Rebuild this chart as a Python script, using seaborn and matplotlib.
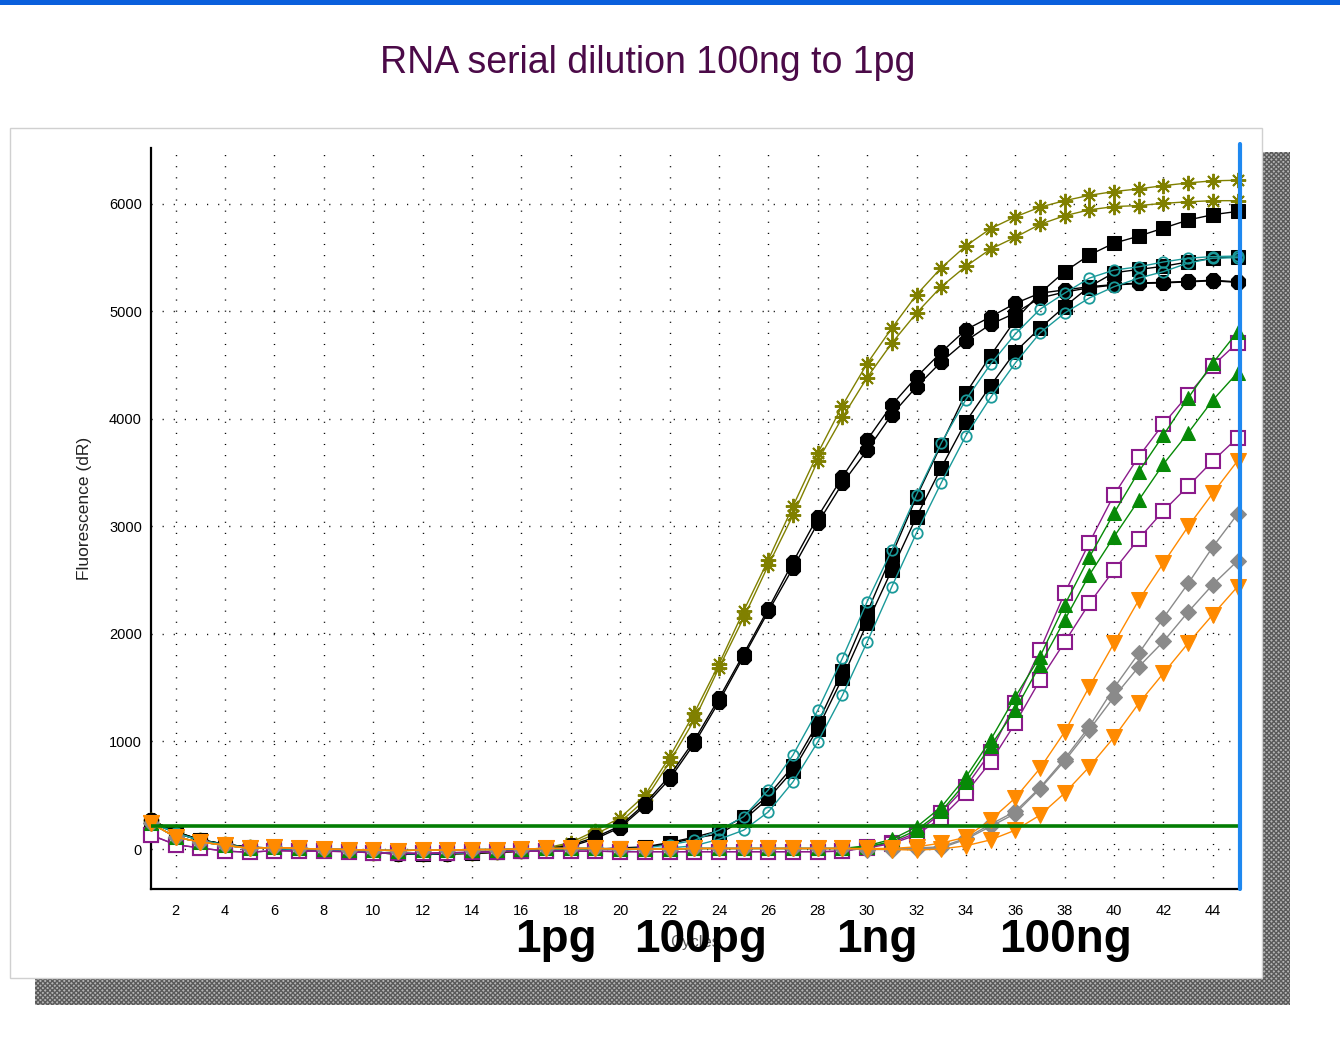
import matplotlib
matplotlib.use("Agg")
import matplotlib.pyplot as plt
from matplotlib.patches import Rectangle
from matplotlib.ticker import FixedLocator
import seaborn as sns

# ---------------- data ----------------
CYCLES = list(range(1, 46))

BASE_EARLY = [270, 160, 85, 45, 15, 10, 0, -10, -15, -35, -45, -50, -45, -40, -30, -20]
BASE_MID = [250, 150, 80, 40, 10, 5, -5, -10, -15, -30, -40, -45, -40, -35, -25, -15, -10, -5, 0]
BASE_LATE = [240, 110, 65, 35, 5, 15, 5, 0, -5, -10, -15, -10, -10, -5, -5, 0, 5, 5, 5,
             0, 0, 0, 5, 5, 5, 5, 5, 5, 5]
BASE_PURPLE = [130, 40, 10, -20, -30, -15, -20, -20, -25, -35, -40, -40, -35, -30, -25, -20,
               -20, -20, -20, -25, -25, -25, -25, -25, -25, -25, -25, -25, -20]

OLIVE_1 = BASE_EARLY + [10, 60, 170, 290, 500, 855, 1265, 1720, 2215, 2690, 3190, 3680, 4125,
                        4515, 4845, 5155, 5405, 5610, 5770, 5880, 5970, 6030, 6080, 6115, 6140,
                        6170, 6195, 6215, 6220]
OLIVE_2 = BASE_EARLY + [5, 45, 140, 250, 455, 810, 1200, 1685, 2150, 2640, 3105, 3610, 4015,
                        4385, 4705, 4985, 5230, 5420, 5580, 5690, 5810, 5890, 5945, 5975, 5985,
                        6005, 6020, 6030, 6030]
HEX_1 = BASE_EARLY + [0, 35, 110, 215, 420, 680, 1010, 1400, 1815, 2235, 2670, 3090, 3460,
                      3805, 4130, 4390, 4620, 4830, 4950, 5075, 5170, 5200, 5230, 5250, 5265,
                      5270, 5280, 5290, 5275]
HEX_2 = BASE_EARLY + [-5, 25, 95, 200, 400, 650, 980, 1370, 1790, 2210, 2615, 3030, 3400,
                      3710, 4040, 4300, 4530, 4725, 4880, 4985, 5125, 5180, 5220, 5245, 5260,
                      5265, 5275, 5285, 5270]
SQ_1 = BASE_MID + [10, 20, 60, 110, 170, 300, 500, 770, 1170, 1660, 2200, 2735, 3275, 3760,
                   4240, 4590, 4920, 5170, 5370, 5525, 5635, 5700, 5775, 5850, 5900, 5930]
SQ_2 = BASE_MID + [5, 15, 50, 100, 140, 270, 470, 730, 1120, 1590, 2100, 2595, 3090, 3545,
                   3975, 4310, 4625, 4845, 5045, 5230, 5360, 5390, 5420, 5460, 5495, 5510]
TEAL_1 = BASE_MID + [0, 10, 40, 80, 175, 300, 550, 875, 1290, 1775, 2300, 2780, 3295, 3775,
                     4180, 4510, 4790, 5020, 5170, 5310, 5385, 5415, 5460, 5495, 5510, 5515]
TEAL_2 = BASE_MID + [-10, 0, 10, 30, 90, 175, 345, 625, 995, 1430, 1925, 2440, 2940, 3405,
                     3845, 4200, 4520, 4800, 4985, 5125, 5230, 5310, 5370, 5450, 5495, 5500]
PUR_1 = BASE_PURPLE + [20, 60, 150, 335, 580, 900, 1355, 1850, 2380, 2850, 3295, 3650, 3955,
                       4225, 4495, 4710]
PUR_2 = BASE_PURPLE + [10, 50, 130, 290, 520, 810, 1170, 1570, 1925, 2285, 2595, 2885, 3145,
                       3375, 3610, 3825]
GRN_1 = BASE_LATE + [30, 90, 205, 390, 670, 1015, 1415, 1790, 2270, 2715, 3125, 3510, 3850,
                     4195, 4520, 4810]
GRN_2 = BASE_LATE + [20, 70, 175, 350, 620, 960, 1295, 1710, 2130, 2550, 2905, 3245, 3580,
                     3870, 4175, 4430]
GRY_1 = BASE_LATE + [0, 0, 10, 20, 100, 230, 350, 570, 840, 1140, 1500, 1820, 2150, 2470,
                     2810, 3115]
GRY_2 = BASE_LATE + [-5, -5, 0, 10, 90, 210, 330, 560, 820, 1110, 1415, 1695, 1930, 2205,
                     2460, 2680]
ORG_1 = BASE_LATE + [5, 5, 20, 55, 110, 270, 475, 750, 1090, 1510, 1915, 2315, 2660, 3000,
                     3310, 3610]
ORG_2 = BASE_LATE + [0, -5, -10, 0, 30, 85, 175, 315, 520, 765, 1040, 1355, 1635, 1915,
                     2180, 2440]

THRESHOLD = 210
END_CYCLE = 45.08

TITLE = "RNA serial dilution 100ng to 1pg"
Y_LABEL = "Fluorescence (dR)"
X_LABEL = "Cycles"
AMOUNT_LABELS = ["1pg", "100pg", "1ng", "100ng"]

# ---------------- style ----------------
sns.set_style("white")
plt.rcParams["font.family"] = ["Liberation Sans", "DejaVu Sans"]

W, H = 1340, 1043
fig = plt.figure(figsize=(W / 100, H / 100), dpi=100)
fig.patch.set_facecolor("white")


def fx(px):
    return px / W


def fy(py):
    return 1 - py / H


# slide decorations (behind the axes)
fig.patches.append(Rectangle((0, fy(5)), 1, 5 / H, transform=fig.transFigure,
                             facecolor="#0a5fdc", edgecolor="none", zorder=-3))
fig.patches.append(Rectangle((fx(1262), fy(1005)), 28 / W, (1005 - 152) / H,
                             transform=fig.transFigure, facecolor="#b4b4b4",
                             edgecolor="#5a5a5a", hatch="xxxxxxx", linewidth=0, zorder=-3))
fig.patches.append(Rectangle((fx(35), fy(1005)), (1290 - 35) / W, 27 / H,
                             transform=fig.transFigure, facecolor="#b4b4b4",
                             edgecolor="#5a5a5a", hatch="xxxxxxx", linewidth=0, zorder=-3))
fig.patches.append(Rectangle((fx(10), fy(978)), (1262 - 10) / W, (978 - 128) / H,
                             transform=fig.transFigure, facecolor="white",
                             edgecolor="#d0d0d0", linewidth=1.0, zorder=-2))

ax = fig.add_axes([fx(151), fy(889), (1240 - 151) / W, (889 - 148) / H])
ax.set_zorder(1)
ax.set_facecolor("none")

series = [
    (OLIVE_1, dict(color="#808000", marker=(8, 2, 0), markersize=11, markeredgewidth=1.4,
                   markeredgecolor="#808000")),
    (OLIVE_2, dict(color="#808000", marker=(8, 2, 0), markersize=11, markeredgewidth=1.4,
                   markeredgecolor="#808000")),
    (HEX_1, dict(color="black", marker="8", markersize=10.5, markeredgecolor="black")),
    (HEX_2, dict(color="black", marker="8", markersize=10.5, markeredgecolor="black")),
    (SQ_1, dict(color="black", marker="s", markersize=9.5, markeredgecolor="black")),
    (SQ_2, dict(color="black", marker="s", markersize=9.5, markeredgecolor="black")),
    (TEAL_1, dict(color="#1a9a9a", marker="o", markersize=7.5, markerfacecolor="none",
                  markeredgecolor="#1a9a9a", markeredgewidth=1.3)),
    (TEAL_2, dict(color="#1a9a9a", marker="o", markersize=7.5, markerfacecolor="none",
                  markeredgecolor="#1a9a9a", markeredgewidth=1.3)),
    (PUR_1, dict(color="#8b1a8b", marker="s", markersize=10, markerfacecolor="white",
                 markeredgecolor="#8b1a8b", markeredgewidth=1.5)),
    (PUR_2, dict(color="#8b1a8b", marker="s", markersize=10, markerfacecolor="white",
                 markeredgecolor="#8b1a8b", markeredgewidth=1.5)),
    (GRN_1, dict(color="#078a07", marker="^", markersize=10, markeredgecolor="#078a07")),
    (GRN_2, dict(color="#078a07", marker="^", markersize=10, markeredgecolor="#078a07")),
    (GRY_1, dict(color="#8a8a8a", marker="D", markersize=8.5, markeredgecolor="#8a8a8a")),
    (GRY_2, dict(color="#8a8a8a", marker="D", markersize=8.5, markeredgecolor="#8a8a8a")),
    (ORG_1, dict(color="#ff8a00", marker="v", markersize=11, markeredgecolor="#ff8a00")),
    (ORG_2, dict(color="#ff8a00", marker="v", markersize=11, markeredgecolor="#ff8a00")),
]

for vals, kw in series:
    sns.lineplot(x=CYCLES, y=vals, ax=ax, linewidth=1.0, errorbar=None, sort=False,
                 legend=False, clip_on=False, zorder=3, **kw)

ax.axhline(THRESHOLD, color="#037d03", linewidth=2.6, zorder=4)
ax.axvline(END_CYCLE, color="#1e88f0", linewidth=3.0, zorder=5, clip_on=False,
           ymin=0, ymax=1.005)

ax.set_xlim(1, 45.1)
ax.set_ylim(-372, 6520)

ax.xaxis.set_major_locator(FixedLocator(list(range(2, 45, 2))))
ax.xaxis.set_minor_locator(FixedLocator(list(range(1, 46, 2))))
ax.yaxis.set_major_locator(FixedLocator(list(range(0, 6001, 1000))))
ax.yaxis.set_minor_locator(FixedLocator(list(range(500, 6501, 1000))))

ax.grid(True, which="major", color="black", linestyle=(0, (0.8, 7.2)), linewidth=1.0)
ax.set_axisbelow(True)

for side in ["top", "right"]:
    ax.spines[side].set_visible(False)
for side in ["left", "bottom"]:
    ax.spines[side].set_linewidth(1.6)
    ax.spines[side].set_color("black")

ax.tick_params(which="both", direction="inout", length=9, width=1.4, color="black",
               labelsize=10.5, labelcolor="black")
ax.tick_params(axis="x", which="major", pad=6.5)
ax.tick_params(axis="y", which="major", pad=2)
ax.set_xlabel("")
ax.set_ylabel("")

fig.text(fx(648), fy(63), TITLE, ha="center", va="center", fontsize=27, color="#4b0a48")
fig.text(fx(84), fy(508), Y_LABEL, rotation=90, ha="center", va="center", fontsize=12.5,
         color="#222222")
fig.text(fx(695), fy(943), X_LABEL, ha="center", va="center", fontsize=12, color="#555555")

label_x = [556, 701, 877, 1065]
for lab, px in zip(AMOUNT_LABELS, label_x):
    fig.text(fx(px), fy(952), lab, ha="center", va="baseline", fontsize=33,
             fontweight="bold", color="black", zorder=10)

fig.savefig("out.png", dpi=100)
